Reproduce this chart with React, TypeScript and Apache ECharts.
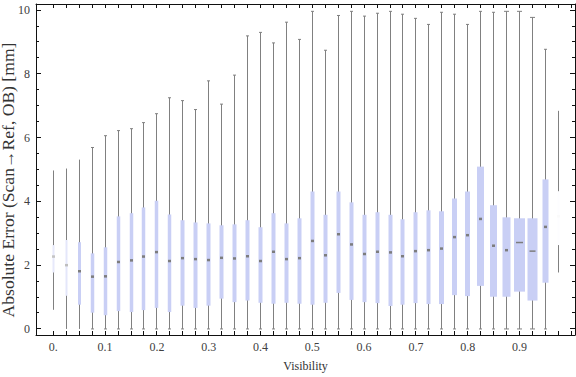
import React, { useEffect, useRef } from 'react';
import * as echarts from 'echarts';

// ---- data ----
const visibility = [
  0.0, 0.025, 0.05, 0.075, 0.1, 0.125, 0.15, 0.175, 0.2, 0.225,
  0.25, 0.275, 0.3, 0.325, 0.35, 0.375, 0.4, 0.425, 0.45, 0.475,
  0.5, 0.525, 0.55, 0.575, 0.6, 0.625, 0.65, 0.675, 0.7, 0.725,
  0.75, 0.775, 0.8, 0.825, 0.85, 0.875, 0.9, 0.925, 0.95, 0.975,
];
const whiskerLow = [
  0.6, 0, 0, 0, 0, 0, 0, 0, 0, 0,
  0, 0, 0, 0, 0, 0, 0, 0, 0, 0,
  0, 0, 0, 0, 0, 0, 0, 0, 0, 0,
  0, 0, 0, 0, 0, 0, 0, 0, 0, 1.77,
];
const quartile1 = [
  1.77, 1.04, 0.76, 0.51, 0.43, 0.56, 0.53, 0.59, 0.66, 0.53,
  0.73, 0.66, 0.73, 0.95, 0.84, 0.89, 0.82, 0.79, 0.82, 0.79,
  0.76, 0.82, 1.13, 0.91, 0.84, 0.81, 0.72, 0.76, 0.81, 0.78,
  0.78, 1.06, 1.03, 1.35, 1.01, 1.01, 1.17, 0.89, 1.45, 2.63,
];
const medians = [
  2.27, 2.0, 1.81, 1.64, 1.65, 2.1, 2.15, 2.27, 2.41, 2.13,
  2.22, 2.19, 2.16, 2.23, 2.21, 2.28, 2.13, 2.42, 2.19, 2.22,
  2.76, 2.31, 2.97, 2.65, 2.35, 2.42, 2.4, 2.28, 2.44, 2.47,
  2.52, 2.88, 2.94, 3.45, 2.61, 2.47, 2.71, 2.44, 3.2, 3.53,
];
const quartile3 = [
  2.63, 2.79, 2.72, 2.37, 2.56, 3.53, 3.63, 3.81, 4.02, 3.59,
  3.41, 3.34, 3.31, 3.25, 3.28, 3.41, 3.19, 3.63, 3.31, 3.47,
  4.31, 3.58, 4.31, 3.97, 3.58, 3.66, 3.58, 3.44, 3.66, 3.72,
  3.69, 4.09, 4.31, 5.09, 3.88, 3.5, 3.47, 3.47, 4.69, 4.32,
];
const whiskerHigh = [
  4.97, 5.03, 5.31, 5.69, 6.06, 6.22, 6.28, 6.47, 6.75, 7.25,
  7.16, 6.88, 7.78, 7.05, 7.96, 9.19, 9.3, 8.97, 9.62, 9.08,
  9.96, 8.74, 9.83, 9.96, 9.81, 9.9, 9.96, 9.87, 9.74, 9.55,
  9.93, 9.87, 9.55, 9.96, 9.93, 9.96, 9.96, 9.77, 8.77, 6.84,
];
const xLabelValues = [0, 0.1, 0.2, 0.3, 0.4, 0.5, 0.6, 0.7, 0.8, 0.9];
const xTickLabels = ['0.', '0.1', '0.2', '0.3', '0.4', '0.5', '0.6', '0.7', '0.8', '0.9'];
const yLabelValues = [0, 2, 4, 6, 8, 10];
const yTickLabels = ['0', '2', '4', '6', '8', '10'];

// ---- styles (per box) ----
const boxWidthPx = [
  2, 2, 3, 3.5, 3.5, 3.5, 3.5, 3.5, 3.5, 3.5,
  4, 4, 4, 4, 4, 4, 4, 4, 4, 4,
  4, 4, 4, 4, 4, 4, 4, 4, 4, 4,
  5, 5, 5, 7, 7, 8, 11, 10, 6, 2,
];
const boxShade = [
  0.45, 0.5, 1, 1, 1, 1, 1, 1, 1, 1,
  1, 1, 1, 1, 1, 1, 1, 1, 1, 1,
  1, 1, 1, 1, 1, 1, 1, 1, 1, 1,
  1, 1, 1, 1, 1, 1, 1, 1, 1, 0.04,
];

const BOX_RGB = [201, 207, 245];
const MED_RGB = [110, 110, 110];
const mix = (rgb: number[], t: number) => {
  const c = rgb.map((v) => Math.round(255 - (255 - v) * t));
  return `rgb(${c[0]},${c[1]},${c[2]})`;
};

const FONT = '"Liberation Serif", "Times New Roman", serif';
const X_MIN = -0.0334;
const X_MAX = 1.0071;
const Y_MIN = -0.19;
const Y_MAX = 10.19;
const FRAME = '#111';

// frame tick positions
const xTicks: number[] = [];
for (let k = 0; k <= 40; k++) xTicks.push(+(k * 0.025).toFixed(3));
const yTicks: number[] = [];
for (let k = 0; k <= 20; k++) yTicks.push(k * 0.5);

const labelFor = (vals: number[], labels: string[]) => (v: number) => {
  const i = vals.findIndex((t) => Math.abs(t - v) < 1e-6);
  return i >= 0 ? labels[i] : '';
};

export default function App() {
  const ref = useRef<HTMLDivElement>(null);
  useEffect(() => {
    if (!ref.current) return;
    const chart = echarts.init(ref.current, null, { renderer: 'svg' });
    const data = visibility.map((x, i) => [
      x, whiskerLow[i], quartile1[i], medians[i], quartile3[i], whiskerHigh[i],
    ]);
    const axisLine = { show: true, onZero: false, lineStyle: { color: FRAME, width: 1 } };
    const baseX = {
      type: 'value',
      min: X_MIN,
      max: X_MAX,
      splitLine: { show: false },
      axisTick: { show: false },
      axisLine,
    };
    const baseY = {
      type: 'value',
      min: Y_MIN,
      max: Y_MAX,
      splitLine: { show: false },
      axisTick: { show: false },
      axisLine,
    };
    chart.setOption({
      animation: false,
      textStyle: { fontFamily: FONT },
      grid: { left: 36, right: 1, top: 4, bottom: 41 },
      xAxis: [
        {
          ...baseX,
          position: 'bottom',
          axisLabel: {
            show: true,
            customValues: xLabelValues,
            formatter: labelFor(xLabelValues, xTickLabels),
            color: '#404040',
            fontFamily: FONT,
            fontSize: 12,
            margin: 6,
          },
          name: 'Visibility',
          nameLocation: 'middle',
          nameGap: 25,
          nameTextStyle: { fontFamily: FONT, fontSize: 12, color: '#333' },
        },
        { ...baseX, position: 'top', axisLabel: { show: false } },
      ],
      yAxis: [
        {
          ...baseY,
          position: 'left',
          axisLabel: {
            show: true,
            customValues: yLabelValues,
            formatter: labelFor(yLabelValues, yTickLabels),
            color: '#404040',
            fontFamily: FONT,
            fontSize: 12,
            margin: 6,
          },
        },
        { ...baseY, position: 'right', axisLabel: { show: false } },
      ],
      graphic: [
        {
          type: 'text',
          x: 9,
          y: 180,
          rotation: Math.PI / 2,
          scaleX: 1.1,
          style: {
            text: 'Absolute Error (Scan\u2192Ref, OB) [mm]',
            font: `16px ${FONT}`,
            fill: '#333',
            align: 'center',
            verticalAlign: 'middle',
            textAlign: 'center',
            textVerticalAlign: 'middle',
          },
        },
      ],
      series: [
        {
          type: 'custom',
          xAxisIndex: 0,
          yAxisIndex: 0,
          data,
          renderItem: (params: any, api: any) => {
            const x = api.value(0);
            const lo = api.coord([x, api.value(1)]);
            const q1 = api.coord([x, api.value(2)]);
            const md = api.coord([x, api.value(3)]);
            const q3 = api.coord([x, api.value(4)]);
            const hi = api.coord([x, api.value(5)]);
            const i = params.dataIndex;
            const w = boxWidthPx[i];
            const shade = boxShade[i];
            const cx = Math.round(lo[0] - 0.5) + 0.5;
            const wc = '#808080';
            const children: any[] = [
              {
                type: 'line',
                shape: { x1: cx, y1: lo[1], x2: cx, y2: hi[1] },
                style: { stroke: wc, lineWidth: 1 },
              },
            ];
            const capW = w >= 3.5 ? (w >= 8 ? 5 : 3) : 0;
            if (capW > 0) {
              children.push(
                { type: 'line', shape: { x1: cx - capW / 2, y1: hi[1], x2: cx + capW / 2, y2: hi[1] }, style: { stroke: wc, lineWidth: 1 } },
                { type: 'line', shape: { x1: cx - capW / 2, y1: lo[1], x2: cx + capW / 2, y2: lo[1] }, style: { stroke: wc, lineWidth: 1 } },
              );
            }
            children.push({
              type: 'rect',
              shape: { x: cx - w / 2, y: q3[1], width: w, height: q1[1] - q3[1] },
              style: { fill: mix(BOX_RGB, shade), stroke: null },
            });
            const mw = w >= 10 ? w - 4 : 3;
            const mh = w >= 10 ? 1.5 : 2.5;
            children.push({
              type: 'rect',
              shape: { x: cx - mw / 2, y: md[1] - mh / 2, width: mw, height: mh },
              style: { fill: mix(MED_RGB, shade * 0.9), stroke: null },
            });

            // inward frame ticks on all four sides, placed with the same scales
            if (i === 0) {
              const cs = params.coordSys;
              const yb = Math.round(cs.y + cs.height);
              const yt = Math.round(cs.y);
              const xl = Math.round(cs.x);
              const xr = Math.round(cs.x + cs.width);
              const tick = (rx: number, ry: number, rw: number, rh: number) => ({
                type: 'rect',
                z2: 10,
                shape: { x: rx, y: ry, width: rw, height: rh },
                style: { fill: FRAME },
              });
              for (const v of xTicks) {
                const p = api.coord([v, 0]);
                const tx = Math.round(p[0] - 0.5);
                children.push(tick(tx, yb - 4, 1, 4), tick(tx, yt, 1, 4));
              }
              for (const v of yTicks) {
                const p = api.coord([0, v]);
                const ty = Math.round(p[1] - 0.5);
                const major = Math.abs(v / 2 - Math.round(v / 2)) < 1e-6;
                const len = major ? 5 : 3;
                children.push(tick(xl, ty, len, 1), tick(xr - len, ty, len, 1));
              }
            }
            return { type: 'group', children };
          },
        },
      ],
    });
    return () => chart.dispose();
  }, []);
  return (
    <div
      ref={ref}
      style={{ position: 'fixed', left: 0, top: 0, width: 576, height: 377, background: '#fff' }}
    />
  );
}
